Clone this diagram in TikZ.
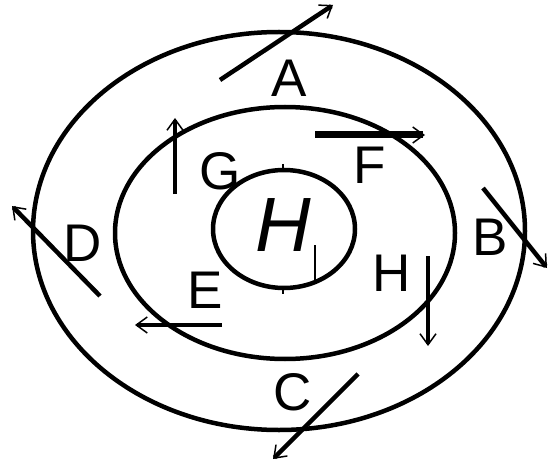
\documentclass[tikz,border=0pt]{standalone}
\usepackage{fontspec}
\setmainfont{Liberation Sans}
\usetikzlibrary{arrows.meta}
\tikzset{
  ring/.style={line width=4.5pt},
  flow/.style={line width=4.5pt,
    -{Straight Barb[length=11pt,width=16pt,line width=1.5pt]}},
  letter/.style={inner sep=0pt,font=\fontsize{53}{53}\selectfont},
}

\begin{document}
\begin{tikzpicture}[x=1pt,y=-1pt]
  \useasboundingbox (0,0) rectangle (549,468);

  % Three nested rings
  \draw[ring] (279,231) ellipse [x radius=246pt,y radius=199pt];
  \draw[ring] (285,233) ellipse [x radius=170pt,y radius=126pt];
  \draw[ring] (284,229) ellipse [x radius=71pt,y radius=59pt];

  % small marks on the inner ring
  \draw[line width=2pt] (283,164) -- (283,171);
  \draw[line width=2pt] (283,287) -- (283,294);
  \draw[line width=2pt] (315,245) -- (315,281);

  % Centre label
  \node[inner sep=0pt,font=\fontsize{77}{77}\selectfont\itshape] (hub) at (283,225) {H};

  % Arrow end points
  \coordinate (A0) at (220,80);  \coordinate (A1) at (333,5);
  \coordinate (B0) at (483,188); \coordinate (B1) at (547,268);
  \coordinate (C0) at (358,374); \coordinate (C1) at (273,459);
  \coordinate (D0) at (100,296); \coordinate (D1) at (12,206);
  \coordinate (E0) at (222,325); \coordinate (E1) at (135,325);
  \coordinate (F0) at (315,135); \coordinate (F1) at (425,135);
  \coordinate (G0) at (175,194); \coordinate (G1) at (175,118);
  \coordinate (H0) at (428,256); \coordinate (H1) at (428,346);

  % Arrows across the rings
  \foreach \n in {A,B,C,D,E,G,H}
    \draw[flow] (\n0) -- (\n1);
  \draw[flow,line width=7pt] (F0) -- (F1);

  % Letters
  \node[letter] (labA) at (289,78)  {A};
  \node[letter] (labB) at (490,237) {B};
  \node[letter] (labC) at (293,392) {C};
  \node[letter] (labD) at (83,243)  {D};
  \node[letter] (labE) at (205,290) {E};
  \node[letter] (labF) at (370,165) {F};
  \node[letter] (labG) at (220,171) {G};
  \node[letter] (labH) at (392,273) {H};
\end{tikzpicture}
\end{document}
